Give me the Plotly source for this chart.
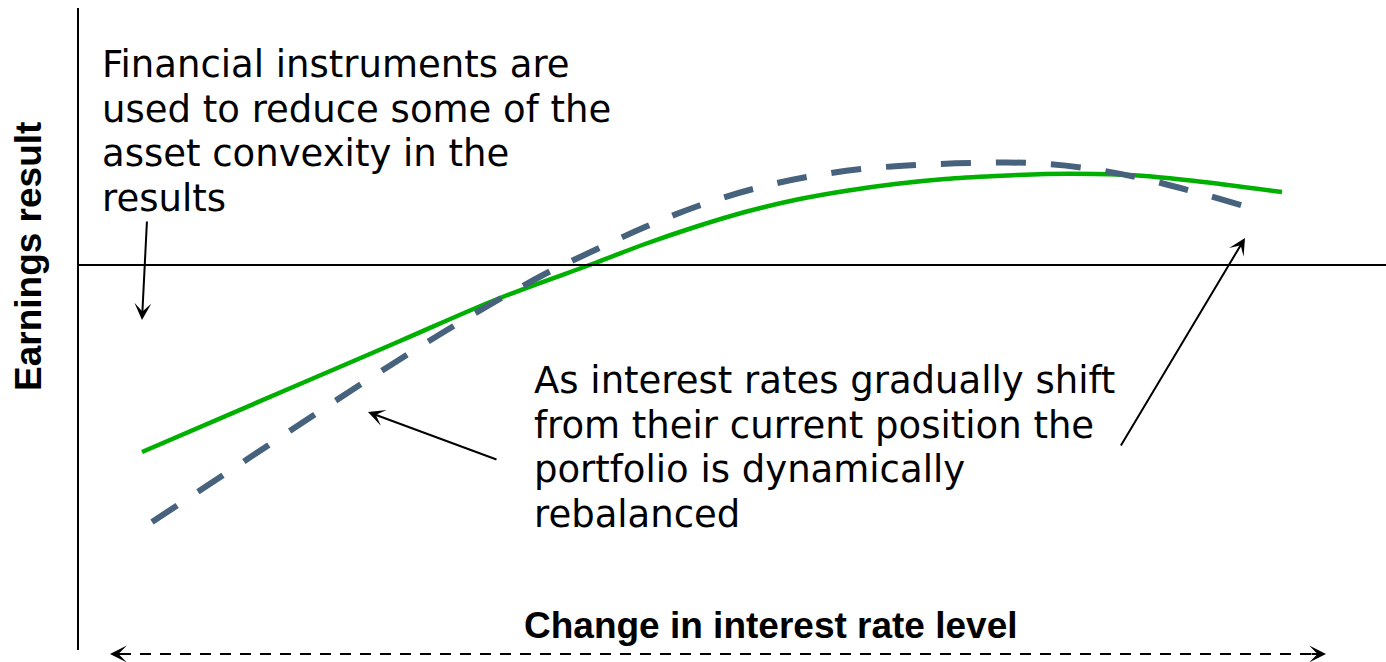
import plotly.graph_objects as go

# ── Colours ───────────────────────────────────────────────────────────────────
GREEN = "#00B000"
SLATE = "#46627C"
BLACK = "#000000"

# ── Data (x: change in rate level, y: earnings result) ─
rate_hedged = [64, 222, 322, 422, 517, 567, 617, 667, 717, 767, 817, 867, 917, 967,
               1017, 1067, 1117, 1204]
earn_hedged = [-187, -119, -76, -33, 2, 21, 38, 53, 65, 74, 81, 86, 89, 91,
               91, 89, 84, 73]

rate_assets = [74, 174, 274, 369, 465, 517, 567, 620, 675, 729, 784, 839, 895, 952,
               1007, 1062, 1117, 1187]
earn_assets = [-257, -191, -125, -65, -10, 15, 38, 59, 76, 88, 96, 100, 102, 102,
               97, 87, 73, 53]

X_RANGE = [-78, 1308]
Y_RANGE = [-397, 265]

note_left = [
    "Financial instruments are",
    "used to reduce some of the",
    "asset convexity in the",
    "results",
]
note_right = [
    "As interest rates gradually shift",
    "from their current position the",
    "portfolio is dynamically",
    "rebalanced",
]
LINE_STEP = 44.5

fig = go.Figure()

fig.add_trace(go.Scatter(
    x=rate_hedged, y=earn_hedged, mode="lines",
    line=dict(color=GREEN, width=4.5, shape="spline", smoothing=1.0),
    hoverinfo="skip",
))
fig.add_trace(go.Scatter(
    x=rate_assets, y=earn_assets, mode="lines",
    line=dict(color=SLATE, width=6, dash="30px,25px", shape="spline", smoothing=1.0),
    hoverinfo="skip",
))

# axes drawn as plain lines
fig.add_shape(type="line", x0=0, x1=0, y0=257, y1=-385, line=dict(color=BLACK, width=2))
fig.add_shape(type="line", x0=0, x1=1308, y0=0, y1=0, line=dict(color=BLACK, width=2))
# dashed range line at bottom
fig.add_shape(type="line", x0=42, x1=1238, y0=-389, y1=-389,
              line=dict(color=BLACK, width=2, dash="11px,9px"))

arrow = dict(showarrow=True, arrowhead=3, arrowsize=1.4, arrowwidth=2, arrowcolor=BLACK,
             axref="x", ayref="y", text="")
fig.add_annotation(x=64, y=-55, ax=69, ay=45, **arrow)
fig.add_annotation(x=290, y=-147, ax=420, ay=-195, **arrow)
fig.add_annotation(x=1167, y=27, ax=1042, ay=-182, **arrow)
# bottom arrow heads
fig.add_annotation(x=32, y=-389, ax=48, ay=-389, **arrow)
fig.add_annotation(x=1248, y=-389, ax=1232, ay=-389, **arrow)

text_font = dict(family="DejaVu Sans", size=37, color=BLACK)
for i, line in enumerate(note_left):
    fig.add_annotation(x=22, y=224 - i * LINE_STEP, text=line, showarrow=False,
                       xanchor="left", yanchor="top", align="left", font=text_font)
for i, line in enumerate(note_right):
    fig.add_annotation(x=454, y=-92 - i * LINE_STEP, text=line, showarrow=False,
                       xanchor="left", yanchor="top", align="left", font=text_font)

title_font = dict(family="Arial, Liberation Sans", size=37, color=BLACK, weight="bold")
fig.add_annotation(x=-50, y=8, text="Earnings result", textangle=-90, showarrow=False,
                   xanchor="center", yanchor="middle", font=title_font)
fig.add_annotation(x=693, y=-360, text="Change in interest rate level", showarrow=False,
                   xanchor="center", yanchor="middle", font=title_font)

fig.update_xaxes(range=X_RANGE, visible=False)
fig.update_yaxes(range=Y_RANGE, visible=False)
fig.update_layout(
    width=1386, height=662, autosize=False,
    margin=dict(l=0, r=0, t=0, b=0),
    paper_bgcolor="white", plot_bgcolor="white",
    showlegend=False,
)

# page body has a default 8px margin; drop it so the figure fills the window
fig.write_html("out.html", config={"displayModeBar": False},
               post_script="document.body.style.margin='0';")
